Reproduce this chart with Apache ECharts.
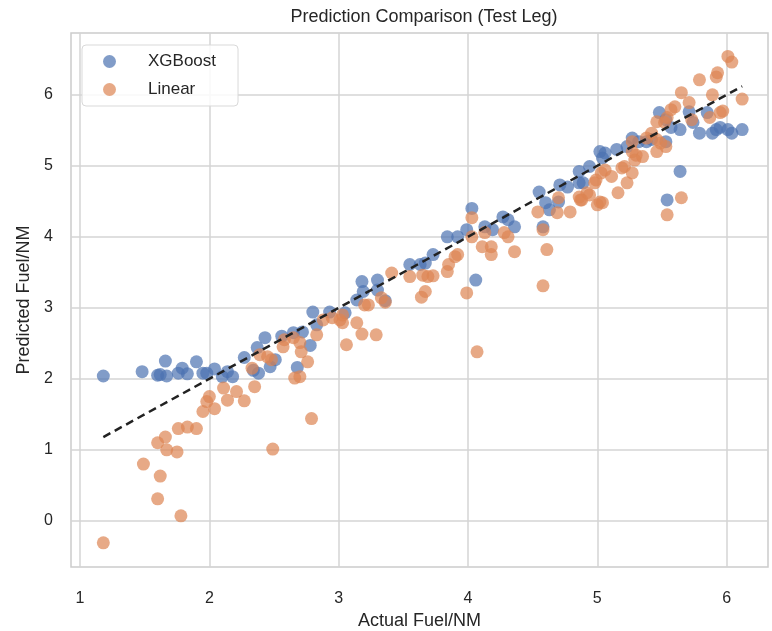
<!DOCTYPE html>
<html>
<head>
<meta charset="utf-8">
<script src="https://cdn.jsdelivr.net/npm/echarts@6/dist/echarts.min.js"></script>
<style>
  html, body { margin: 0; padding: 0; background: #fff; }
  #chart { width: 772px; height: 631px; }
</style>
</head>
<body>
<div id="chart"></div>
<script>
// actual vs predicted fuel/NM
var xgbActual = [1.18, 1.48, 1.60, 1.62, 1.66, 1.67, 1.76, 1.79, 1.83, 1.90, 1.95, 1.98, 2.04, 2.10, 2.14, 2.18,
    2.27, 2.34, 2.37, 2.38, 2.43, 2.47, 2.51, 2.56, 2.65, 2.68, 2.72, 2.78, 2.80, 2.83, 2.93, 3.05, 3.14, 3.18,
    3.19, 3.30, 3.30, 3.36, 3.55, 3.63, 3.67, 3.73, 3.84, 3.92, 3.99, 4.03, 4.06, 4.13, 4.19, 4.27, 4.31, 4.36,
    4.55, 4.58, 4.60, 4.63, 4.70, 4.71, 4.77, 4.86, 4.86, 4.89, 4.94, 5.02, 5.04, 5.06, 5.15, 5.23, 5.27, 5.32,
    5.38, 5.42, 5.48, 5.53, 5.53, 5.54, 5.57, 5.64, 5.64, 5.71, 5.74, 5.79, 5.85, 5.89, 5.92, 5.95, 6.01, 6.04, 6.12];
var xgbPred = [2.04, 2.10, 2.05, 2.06, 2.25, 2.04, 2.08, 2.15, 2.07, 2.24, 2.08, 2.08, 2.14, 2.03, 2.10, 2.03,
    2.30, 2.12, 2.44, 2.08, 2.58, 2.17, 2.27, 2.60, 2.65, 2.16, 2.66, 2.47, 2.94, 2.76, 2.94, 2.93, 3.11, 3.37,
    3.23, 3.39, 3.25, 3.10, 3.61, 3.61, 3.63, 3.75, 4.00, 4.00, 4.10, 4.40, 3.39, 4.14, 4.10, 4.28, 4.24, 4.14,
    4.63, 4.14, 4.48, 4.38, 4.49, 4.73, 4.70, 4.92, 4.76, 4.76, 4.99, 5.20, 5.11, 5.18, 5.23, 5.27, 5.39, 5.34,
    5.34, 5.37, 5.75, 5.34, 5.65, 4.52, 5.54, 5.51, 4.92, 5.76, 5.61, 5.46, 5.75, 5.46, 5.51, 5.54, 5.51, 5.46, 5.51];

var linActual = [1.18, 1.49, 1.60, 1.60, 1.62, 1.66, 1.67, 1.75, 1.76, 1.78, 1.83, 1.90, 1.95, 1.98, 2.00, 2.04,
    2.11, 2.14, 2.21, 2.27, 2.35, 2.33, 2.39, 2.45, 2.48, 2.49, 2.57, 2.58, 2.65, 2.66, 2.70, 2.70, 2.71, 2.76,
    2.79, 2.83, 2.88, 2.95, 3.01, 3.03, 3.03, 3.06, 3.14, 3.18, 3.20, 3.23, 3.29, 3.33, 3.36, 3.41, 3.55, 3.64,
    3.65, 3.67, 3.69, 3.73, 3.84, 3.85, 3.90, 3.92, 3.99, 4.03, 4.03, 4.07, 4.11, 4.13, 4.18, 4.18, 4.28, 4.31,
    4.36, 4.54, 4.58, 4.58, 4.61, 4.69, 4.70, 4.79, 4.86, 4.87, 4.88, 4.92, 4.94, 4.98, 4.99, 5.00, 5.02, 5.03,
    5.04, 5.06, 5.11, 5.16, 5.19, 5.21, 5.23, 5.27, 5.27, 5.27, 5.29, 5.30, 5.35, 5.38, 5.42, 5.46, 5.46, 5.46,
    5.49, 5.52, 5.53, 5.54, 5.54, 5.57, 5.60, 5.65, 5.65, 5.71, 5.73, 5.79, 5.87, 5.89, 5.92, 5.93, 5.95, 5.97,
    6.01, 6.04, 6.12];
var linPred = [-0.31, 0.80, 0.31, 1.10, 0.63, 1.18, 1.00, 0.97, 1.30, 0.07, 1.32, 1.30, 1.54, 1.68, 1.75, 1.58,
    1.87, 1.70, 1.82, 1.69, 1.89, 2.15, 2.34, 2.31, 2.27, 1.01, 2.45, 2.55, 2.58, 2.01, 2.51, 2.03, 2.38, 2.24,
    1.44, 2.62, 2.83, 2.86, 2.83, 2.79, 2.90, 2.48, 2.79, 2.63, 3.04, 3.04, 2.62, 3.14, 3.08, 3.49, 3.44, 3.15,
    3.46, 3.23, 3.44, 3.45, 3.51, 3.61, 3.72, 3.75, 3.21, 4.27, 4.00, 2.38, 3.86, 4.06, 3.86, 3.75, 4.06, 4.00,
    3.79, 4.35, 4.10, 3.31, 3.82, 4.34, 4.55, 4.35, 4.56, 4.52, 4.52, 4.62, 4.59, 4.76, 4.80, 4.45, 4.49, 4.90,
    4.48, 4.94, 4.85, 4.62, 4.97, 4.99, 4.76, 4.90, 5.20, 5.34, 5.08, 5.15, 5.13, 5.39, 5.46, 5.37, 5.20, 5.62,
    5.32, 5.61, 5.27, 5.68, 4.31, 5.79, 5.83, 6.03, 4.55, 5.89, 5.65, 6.21, 5.68, 6.00, 6.25, 6.31, 5.75, 5.77,
    6.54, 6.46, 5.94];

var tickValues = [1, 2, 3, 4, 5, 6];
var yTickValues = [0, 1, 2, 3, 4, 5, 6];

function pairs(xs, ys) {
    var out = [];
    for (var i = 0; i < xs.length; i++) out.push([xs[i], ys[i]]);
    return out;
}

// y = x reference line across the range of actual values
var lo = Math.min(Math.min.apply(null, xgbActual), Math.min.apply(null, linActual));
var hi = Math.max(Math.max.apply(null, xgbActual), Math.max.apply(null, linActual));

var FONT = '"Liberation Sans", Arial, sans-serif';
var chart = echarts.init(document.getElementById('chart'));

chart.setOption({
    animation: false,
    backgroundColor: '#fff',
    textStyle: { fontFamily: FONT },
    title: {
        text: 'Prediction Comparison (Test Leg)',
        left: 419,
        top: 3,
        textAlign: 'center',
        textStyle: { fontFamily: FONT, fontSize: 18, fontWeight: 'normal', color: '#262626' }
    },
    legend: {
        left: 82,
        top: 45,
        orient: 'vertical',
        data: ['XGBoost', 'Linear'],
        icon: 'circle',
        itemWidth: 13,
        itemHeight: 13,
        itemGap: 11,
        padding: [8, 22, 8, 21],
        backgroundColor: 'rgba(255,255,255,0.85)',
        borderColor: '#d9d9d9',
        borderWidth: 1,
        borderRadius: 4,
        textStyle: { fontFamily: FONT, fontSize: 17, color: '#262626', padding: [0, 0, 0, 27] }
    },
    grid: {
        left: 71,
        right: 4,
        top: 33,
        bottom: 64,
        outerBoundsMode: 'none',
        containLabel: false,
        show: true,
        borderColor: '#cccccc',
        borderWidth: 1.5
    },
    xAxis: {
        type: 'value',
        min: 0.93,
        max: 6.32,
        name: 'Actual Fuel/NM',
        nameLocation: 'middle',
        nameGap: 45,
        nameTextStyle: { fontFamily: FONT, fontSize: 18, color: '#262626' },
        axisLine: { show: false },
        axisTick: { show: false, customValues: tickValues },
        axisLabel: { customValues: tickValues, margin: 24, fontSize: 16, color: '#262626', fontFamily: FONT },
        splitLine: { show: true, lineStyle: { color: '#d4d4d4', width: 1.5 } }
    },
    yAxis: {
        type: 'value',
        min: -0.65,
        max: 6.87,
        name: 'Predicted Fuel/NM',
        nameLocation: 'middle',
        nameGap: 38,
        nameTextStyle: { fontFamily: FONT, fontSize: 18, color: '#262626' },
        axisLine: { show: false },
        axisTick: { show: false, customValues: yTickValues },
        axisLabel: { customValues: yTickValues, margin: 18, fontSize: 16, color: '#262626', fontFamily: FONT },
        splitLine: { show: true, lineStyle: { color: '#d4d4d4', width: 1.5 } }
    },
    series: [
        {
            name: 'XGBoost',
            type: 'scatter',
            symbolSize: 13,
            itemStyle: { color: '#4C72B0', opacity: 0.7 },
            data: pairs(xgbActual, xgbPred),
            z: 2
        },
        {
            name: 'Linear',
            type: 'scatter',
            symbolSize: 13,
            itemStyle: { color: '#DD8452', opacity: 0.7 },
            data: pairs(linActual, linPred),
            z: 3
        },
        {
            name: 'ideal',
            type: 'line',
            data: [[lo, lo], [hi, hi]],
            symbol: 'none',
            lineStyle: { color: '#222', width: 2.5, type: [8, 5] },
            z: 4
        }
    ]
});
</script>
</body>
</html>
